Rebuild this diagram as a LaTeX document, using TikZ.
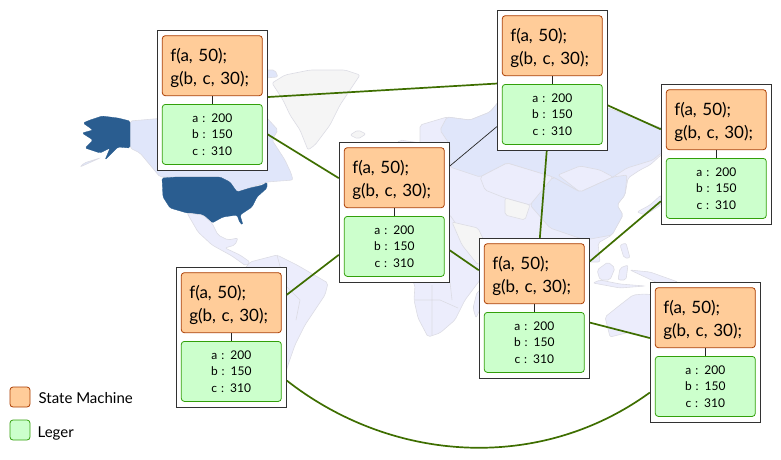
\documentclass[tikz,border=0pt]{standalone}
\usepackage{fontspec}
\setmainfont{Lato}
\usetikzlibrary{positioning}
\definecolor{mystate}{RGB}{255,204,153}
\definecolor{mystateline}{RGB}{170,60,0}
\definecolor{myleger}{RGB}{204,255,204}
\definecolor{mylegerline}{RGB}{50,160,10}
\definecolor{mylink}{RGB}{62,110,0}
\definecolor{myframe}{RGB}{50,50,50}
\definecolor{myusa}{RGB}{42,93,144}
\definecolor{myland}{RGB}{236,237,252}
\definecolor{mylandb}{RGB}{224,230,250}
\definecolor{mylandc}{RGB}{245,245,245}
\definecolor{myborder}{RGB}{220,220,228}
\tikzset{
  framebox/.style={draw=myframe,fill=white,line width=1pt,minimum width=110pt,minimum height=140pt,inner sep=0pt},
  statebox/.style={draw=mystateline,fill=mystate,line width=0.8pt,rounded corners=3pt,minimum height=60pt,
    text width=84pt,inner xsep=8pt,inner ysep=0pt,align=left,font=\fontsize{17}{23}\selectfont,
    execute at begin node=\rule{0pt}{18pt}},
  legerbox/.style={draw=mylegerline,fill=myleger,line width=0.8pt,rounded corners=3pt,minimum height=60pt,
    text width=84pt,inner xsep=8pt,inner ysep=0pt,align=center,font=\fontsize{12}{16.5}\selectfont},
  keybox/.style={line width=0.8pt,rounded corners=3pt,minimum size=20pt,inner sep=0pt},
  keytext/.style={anchor=west,inner sep=0pt,font=\fontsize{15}{17}\selectfont},
  link/.style={draw=mylink,line width=1.7pt},
  thinlink/.style={draw=black!85,line width=0.7pt},
  tie/.style={draw=black!85,line width=1.3pt},
  land/.style={fill=myland,draw=myborder,line width=0.6pt,rounded corners=2pt},
  landb/.style={fill=mylandb,draw=myborder,line width=0.6pt,rounded corners=2pt},
  landc/.style={fill=mylandc,draw=myborder,line width=0.6pt,rounded corners=2pt},
  usa/.style={fill=myusa,draw=myusa,line width=0.3pt,rounded corners=1.5pt},
}
\newcommand{\replica}[3]{
  \node[framebox] (#1) at (#2,#3) {};
  \node[statebox,below=5.5pt of #1.north] (#1state) {f(a, 50);\\g(b, c, 30);};
  \node[legerbox,above=6pt of #1.south] (#1leger) {a : 200\\b : 150\\c : 310};
  \draw[tie] (#1state) -- (#1leger);
}

\begin{document}
\begin{tikzpicture}[x=1pt,y=-1pt]
  \useasboundingbox (0,0) rectangle (781,460);

  % america
  \fill[landb] (130,121) -- (165,118) -- (255,100) -- (267,118) -- (278,130) -- (272,140) -- (285,160) -- (291,173)
    -- (293,180) -- (267,182) -- (237,192) -- (230,182) -- (220,177) -- (160,177) -- (140,153) -- (130,148) -- cycle;
  \fill[landb] (262,70) -- (275,70) -- (278,77) -- (264,78) -- cycle;
  \fill[usa] (83,123) -- (90,120) -- (102,116) -- (118,118) -- (130,121) -- (130,148) -- (118,147) -- (105,160)
    -- (110,148) -- (100,153) -- (85,148) -- (93,140) -- (82,133) -- (93,130) -- cycle;
  \fill[landb] (80,167) -- (100,158) -- (84,163) -- cycle;
  \fill[usa] (162,178) -- (177,177) -- (220,177) -- (230,182) -- (237,192) -- (250,188) -- (263,185) -- (267,182)
    -- (267,188) -- (257,197) -- (252,207) -- (240,215) -- (243,225) -- (240,223) -- (237,215) -- (223,217)
    -- (212,223) -- (203,215) -- (187,213) -- (170,208) -- (163,197) -- cycle;
  \fill[land] (187,213) -- (203,215) -- (212,223) -- (218,235) -- (228,240) -- (238,238) -- (235,245) -- (225,248)
    -- (240,255) -- (250,262) -- (246,266) -- (232,256) -- (212,245) -- (198,232) -- cycle;
  \fill[land] (250,262) -- (277,255) -- (297,265) -- (328,283) -- (325,295) -- (315,310) -- (305,325) -- (295,345)
    -- (288,365) -- (282,385) -- (270,385) -- (262,340) -- (235,300) -- (240,275) -- cycle;
  \draw[myborder,line width=0.6pt] (277,255) -- (285,285) -- (300,300) -- (296,320);
  \fill[landc] (272,83) -- (285,75) -- (310,70) -- (345,70) -- (360,75) -- (350,90) -- (340,105) -- (330,125)
    -- (315,145) -- (308,150) -- (300,130) -- (290,115) -- (283,100) -- cycle;
  \fill[landc] (350,135) -- (358,130) -- (366,134) -- (358,139) -- cycle;

  % africa
  \fill[land] (345,200) -- (400,140) -- (470,150) -- (478,230) -- (495,262) -- (480,280) -- (465,300) -- (455,320)
    -- (440,333) -- (428,337) -- (418,318) -- (414,300) -- (415,285) -- (405,270) -- (370,275) -- (345,250) -- cycle;
  \fill[land] (477,292) -- (484,288) -- (482,305) -- (476,318) -- (473,308) -- cycle;
  \draw[myborder,line width=0.6pt] (415,300) -- (440,300) -- (458,308) (432,285) -- (432,335) (450,282) -- (452,300);

  % eurasia
  \fill[land] (420,143) -- (420,125) -- (447,117) -- (470,120) -- (490,112) -- (500,100) -- (608,108) -- (661,128) -- (700,130)
    -- (700,150) -- (661,155) -- (650,165) -- (640,170) -- (628,178) -- (625,195) -- (617,205) -- (623,215)
    -- (612,235) -- (598,243) -- (600,262) -- (590,262) -- (560,260) -- (490,262) -- (470,245) -- (450,215) -- (420,200) -- cycle;
  \fill[landb] (450,167) -- (480,177) -- (507,163) -- (553,177) -- (580,192) -- (613,177) -- (627,168) -- (653,160)
    -- (661,153) -- (700,150) -- (700,130) -- (661,128) -- (608,108) -- (500,100) -- (490,112) -- (470,120) -- (447,117)
    -- (440,130) -- (450,145) -- cycle;
  \fill[land] (480,177) -- (507,163) -- (553,177) -- (552,190) -- (530,205) -- (505,198) -- (485,190) -- cycle;
  \fill[land] (558,175) -- (580,192) -- (613,177) -- (600,170) -- (580,166) -- cycle;
  \fill[landb] (530,205) -- (553,177) -- (580,192) -- (613,177) -- (627,175) -- (625,195) -- (617,205) -- (623,215)
    -- (612,235) -- (585,240) -- (550,228) -- cycle;
  \fill[landc] (505,198) -- (530,205) -- (525,220) -- (505,215) -- cycle;
  \fill[landc] (452,222) -- (478,228) -- (492,258) -- (478,265) -- (462,245) -- cycle;

  % asia islands, australia
  \fill[land] (637,212) -- (650,205) -- (661,195) -- (661,205) -- (645,215) -- cycle;
  \fill[land] (620,245) -- (626,243) -- (630,258) -- (624,258) -- cycle;
  \fill[land] (597,270) -- (608,262) -- (615,268) -- (610,280) -- (600,280) -- cycle;
  \fill[land] (620,268) -- (628,265) -- (626,280) -- (618,280) -- cycle;
  \fill[land] (630,270) -- (650,272) -- (678,282) -- (660,284) -- cycle;
  \fill[land] (593,283) -- (620,288) -- (645,286) -- (620,284) -- (600,280) -- cycle;
  \fill[land] (605,317) -- (620,305) -- (633,295) -- (645,294) -- (700,300) -- (700,340) -- (650,338) -- (630,332) -- (610,337) -- cycle;

  % replicas
  \replica{paris}{212.3}{100.3}
  \replica{tokyo}{552.3}{80.3}
  \replica{osaka}{716.3}{154.3}
  \replica{cairo}{394.3}{212.3}
  \replica{delhi}{534.3}{308.3}
  \replica{perth}{705.3}{352.3}
  \replica{lima}{231.3}{337.3}

  % links
  \draw[link] (paris) -- (tokyo);
  \draw[link] (paris) -- (cairo);
  \draw[thinlink] (tokyo) -- (cairo);
  \draw[link] (tokyo) -- (osaka);
  \draw[link] (tokyo) -- (delhi);
  \draw[link] (osaka) -- (delhi);
  \draw[link] (cairo) -- (delhi);
  \draw[link] (cairo) -- (lima);
  \draw[link] (delhi) -- (perth);
  \draw[link] (lima) to[out=-38,in=-144,looseness=0.95] (perth);

  % legend
  \node[keybox,draw=mystateline,fill=mystate] (keystate) at (20,397) {};
  \node[keybox,draw=mylegerline,fill=myleger] (keyleger) at (20,430) {};
  \node[keytext,right=8pt of keystate,yshift=-1pt] (keystatetext) {State Machine};
  \node[keytext,right=7pt of keyleger,yshift=-3pt] (keylegertext) {Leger};

\end{tikzpicture}
\end{document}
